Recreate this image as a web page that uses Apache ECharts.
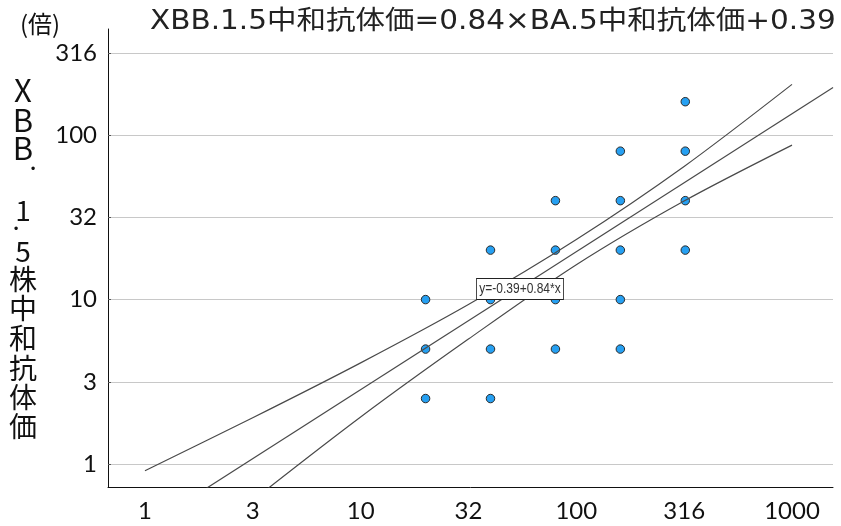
<!DOCTYPE html>
<html>
<head>
<meta charset="utf-8">
<script src="https://cdn.jsdelivr.net/npm/echarts@6/dist/echarts.min.js"></script>
<style>
html,body{margin:0;padding:0;background:#fff;}
#chart{width:841px;height:526px;}
</style>
</head>
<body>
<div id="chart"></div>
<script>
// ---- data ----
const ba5 = [20, 20, 20, 40, 40, 40, 40, 80, 80, 80, 80, 160, 160, 160, 160, 160, 320, 320, 320, 320];
const xbb = [10, 5, 2.5, 20, 10, 5, 2.5, 40, 20, 10, 5, 80, 40, 20, 10, 5, 160, 80, 40, 20];
const fitX = [1, 1550];
const fitY = [0.41, 195];
const bandX = [1, 3.16, 10, 31.6, 100, 316, 1000];
const upperY = [0.91, 1.91, 4.12, 9.33, 23.2, 64.6, 204];
const lowerY = [0.18, 0.60, 1.93, 5.75, 16.3, 39.8, 87.1];
const titleText = 'XBB.1.5中和抗体価=0.84×BA.5中和抗体価+0.39';
const unitText = '(倍)';
const yNameChars = ['X', 'B', 'B', '.', '1', '.', '5', '株', '中', '和', '抗', '体', '価'];
const eqText = 'y=-0.39+0.84*x';

const pts = ba5.map((x, i) => [x, xbb[i]]);
const fitData = fitX.map((x, i) => [x, fitY[i]]);
const upData = bandX.map((x, i) => [x, upperY[i]]);
const loData = bandX.map((x, i) => [x, lowerY[i]]);

// layout of the vertical axis name (style only)
const yNamePos = [
  [23, 90, 31], [23, 120, 31], [23, 148, 31], [33, 160, 26], [23, 210, 28], [16, 220, 26], [23, 251, 28],
  [23, 279, 28], [23, 308, 28], [23, 338, 28], [23, 368, 28], [23, 397, 28], [23, 426, 28]
];
const yNameGraphics = yNameChars.map((c, i) => ({
  type: 'text',
  x: yNamePos[i][0], y: yNamePos[i][1],
  style: {
    text: c, fill: '#111',
    font: yNamePos[i][2] + 'px "Noto Sans CJK JP"',
    align: 'center', verticalAlign: 'middle'
  }
}));

const chart = echarts.init(document.getElementById('chart'));
const base = Math.sqrt(10);
const labelFont = { fontFamily: 'Lato', fontSize: 24, color: '#111' };

chart.setOption({
  animation: false,
  backgroundColor: '#fff',
  grid: { left: 108, right: 8, top: 29, bottom: 39, containLabel: false },
  xAxis: {
    type: 'log', logBase: base, min: 0.674, max: 1549, splitNumber: 7,
    axisLine: { show: true, lineStyle: { color: '#111', width: 1 } },
    axisTick: { show: false },
    splitLine: { show: false },
    axisLabel: Object.assign({ margin: 12, showMinLabel: false, showMaxLabel: false,
      formatter: v => String(Math.round(v)) }, labelFont)
  },
  yAxis: {
    type: 'log', logBase: base, min: 0.724, max: 443, splitNumber: 6,
    axisLine: { show: true, lineStyle: { color: '#111', width: 1 } },
    axisTick: { show: true, inside: true, length: 3, lineStyle: { color: '#555' } },
    splitLine: { show: true, showMinLine: false, showMaxLine: false, lineStyle: { color: '#c8c8c8', width: 1.2 } },
    axisLabel: Object.assign({ margin: 11, showMinLabel: false, showMaxLabel: false,
      formatter: v => String(Math.round(v)) }, labelFont)
  },
  series: [
    {
      type: 'scatter', data: pts, symbol: 'circle', symbolSize: 8.5, z: 2,
      itemStyle: { color: '#26a0f2', borderColor: '#2a2a2a', borderWidth: 1, opacity: 1 }
    },
    {
      type: 'line', data: fitData, showSymbol: false, clip: true, z: 3,
      lineStyle: { color: '#4a4a4a', width: 1.2 }
    },
    {
      type: 'line', data: upData, showSymbol: false, clip: true, smooth: 0.3, z: 3,
      lineStyle: { color: '#4a4a4a', width: 1.2 }
    },
    {
      type: 'line', data: loData, showSymbol: false, clip: true, smooth: 0.3, z: 3,
      lineStyle: { color: '#4a4a4a', width: 1.2 }
    }
  ],
  graphic: [
    {
      type: 'text', x: 150, y: 22, scaleX: 1.135, z: 10,
      style: { text: titleText, fill: '#222', font: '26px "DejaVu Sans", "Noto Sans CJK JP"',
        align: 'left', verticalAlign: 'middle' }
    },
    {
      type: 'text', x: 40, y: 24, z: 10,
      style: { text: unitText, fill: '#111', font: '24px "Noto Sans CJK JP"',
        align: 'center', verticalAlign: 'middle' }
    },
    {
      type: 'text', x: 520, y: 289, scaleX: 0.8, z: 10,
      style: { text: eqText, fill: '#333', font: '15px "Liberation Sans"',
        align: 'center', verticalAlign: 'middle',
        backgroundColor: '#fff', borderColor: '#222', borderWidth: 1, padding: [3, 3, 2, 3] }
    }
  ].concat(yNameGraphics)
});
</script>
</body>
</html>
